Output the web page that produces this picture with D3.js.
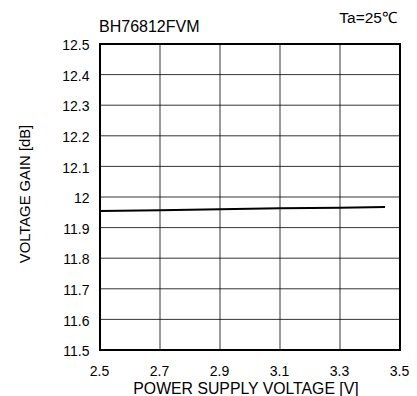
<!DOCTYPE html>
<html><head><meta charset="utf-8">
<script src="https://cdn.jsdelivr.net/npm/d3@7"></script>
<style>body{margin:0;background:#fff}svg{display:block}text{font-family:"Liberation Sans",Arial,sans-serif;fill:#000}</style>
</head><body>
<svg id="c" width="417" height="396"></svg>
<script>
const xTicks = [2.5, 2.7, 2.9, 3.1, 3.3, 3.5];
const xGrid = [2.5, 2.7, 2.9, 3.1, 3.3, 3.5];
const yTicks = [11.5, 11.6, 11.7, 11.8, 11.9, 12, 12.1, 12.2, 12.3, 12.4, 12.5];
const supplyV = [2.5, 2.7, 2.9, 3.1, 3.3, 3.45];
const gainDb = [11.954, 11.957, 11.960, 11.963, 11.965, 11.967];

const svg = d3.select("#c");
const L = 100, R = 400, T = 44, B = 350;
const x = d3.scaleLinear().domain([2.5, 3.5]).range([L, R]);
const y = d3.scaleLinear().domain([11.5, 12.5]).range([B, T]);

// grid
svg.append("g").selectAll("line").data(xGrid).join("line")
  .attr("x1", d => x(d)).attr("x2", d => x(d)).attr("y1", T).attr("y2", B)
  .attr("stroke", "#000").attr("stroke-width", 0.8);
svg.append("g").selectAll("line").data(yTicks).join("line")
  .attr("x1", L).attr("x2", R).attr("y1", d => y(d)).attr("y2", d => y(d))
  .attr("stroke", "#000").attr("stroke-width", 0.8);
// frame
svg.append("rect").attr("x", L).attr("y", T).attr("width", R - L).attr("height", B - T)
  .attr("fill", "none").attr("stroke", "#000").attr("stroke-width", 2);

const ff = "Liberation Sans, Arial, sans-serif";
const ya = svg.append("g").attr("transform", `translate(${L},0)`)
  .call(d3.axisLeft(y).tickValues(yTicks).tickSize(0).tickPadding(10.5).tickFormat(d3.format("")));
ya.select(".domain").remove();
ya.selectAll("text").style("font-size", "14px").style("font-family", ff).attr("dy", "0.4em");
const xa = svg.append("g").attr("transform", `translate(0,${B})`)
  .call(d3.axisBottom(x).tickValues(xTicks).tickSize(0).tickPadding(16).tickFormat(d3.format(".1f")));
xa.select(".domain").remove();
xa.selectAll("text").style("font-size", "14px").style("font-family", ff).attr("dx", "-1");

// data line
svg.append("path").datum(supplyV.map((v, i) => [v, gainDb[i]]))
  .attr("d", d3.line().x(d => x(d[0])).y(d => y(d[1])))
  .attr("fill", "none").attr("stroke", "#000").attr("stroke-width", 2);

// titles
svg.append("text").attr("x", 99).attr("y", 31.5).style("font-size", "16px").text("BH76812FVM");
svg.append("text").attr("x", 397).attr("y", 23.3).attr("text-anchor", "end").style("font-size", "15.5px").text("Ta=25℃");
svg.append("text").attr("x", 246).attr("y", 394).attr("text-anchor", "middle").style("font-size", "15.8px").text("POWER SUPPLY VOLTAGE [V]");
svg.append("text").attr("transform", `translate(29.5,194) rotate(-90)`).attr("text-anchor", "middle").style("font-size", "14.8px").text("VOLTAGE GAIN [dB]");
</script>
</body></html>
